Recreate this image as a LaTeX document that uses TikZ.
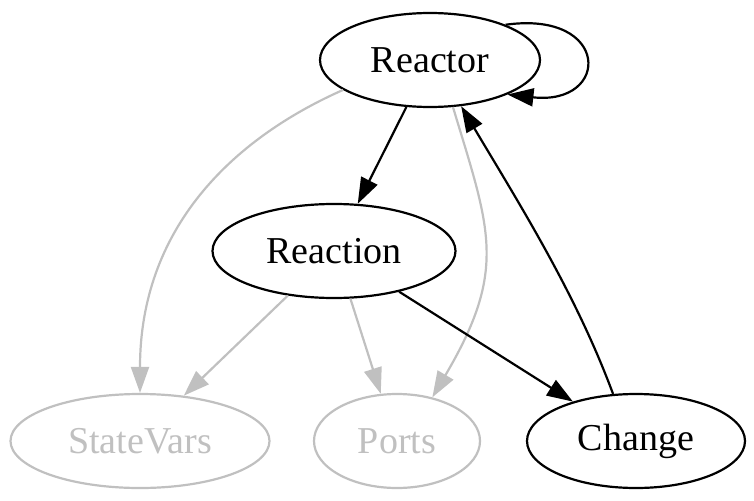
\documentclass[tikz,border=0pt]{standalone}
\usepackage{fontspec}
\setmainfont{Liberation Serif}
\usetikzlibrary{shapes.geometric,arrows.meta}
\definecolor{edgegray}{HTML}{C0C0C0}
\tikzset{
  gnode/.style={ellipse, draw, line width=2.2pt, inner sep=0pt, minimum height=94pt,
    font=\fontsize{38}{42}\selectfont},
  graynode/.style={gnode, draw=edgegray, text=edgegray},
  gedge/.style={line width=2.2pt, -{Triangle[length=26pt,width=18pt]}},
  grayedge/.style={gedge, draw=edgegray, edgegray},
}
\begin{document}
\begin{tikzpicture}[x=1pt,y=-1pt]
\useasboundingbox (0,0) rectangle (754,500);
\node[gnode, minimum width=220pt] (Reactor) at (430,60) {Reactor};
\node[gnode, minimum width=243pt] (Reaction) at (334,251) {Reaction};
\node[graynode, minimum width=259pt] (StateVars) at (140,441) {StateVars};
\node[graynode, minimum width=166pt] (Ports) at (397,441) {Ports};
\node[gnode, minimum width=218pt] (Change) at (636,441) {Change};

% self loop
\draw[gedge] (Reactor.25) .. controls (611,10) and (611,106) .. (Reactor.-24);
% Reactor -> Reaction
\draw[gedge] (Reactor) -- (Reaction);
% Reactor -> StateVars
\draw[grayedge] (Reactor.199) .. controls (230,140) and (140,230) .. (StateVars.north);
% Reactor -> Ports
\draw[grayedge] (Reactor.-64) .. controls (490,230) and (508,269) .. (Ports.51);
% Reaction -> StateVars
\draw[grayedge] (Reaction.224) -- (StateVars.46);
% Reaction -> Ports
\draw[grayedge] (Reaction.-71) -- (Ports.109);
% Reaction -> Change
\draw[gedge] (Reaction.-32) -- (Change.148);
% Change -> Reactor
\draw[gedge] (Change.116) .. controls (576,294) and (520,205) .. (Reactor.-56);
\end{tikzpicture}
\end{document}
